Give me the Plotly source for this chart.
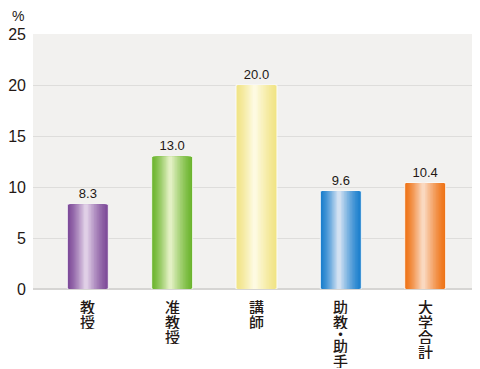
import plotly.graph_objects as go

categories = ["教授", "准教授", "講師", "助教・助手", "大学合計"]
values = [8.3, 13.0, 20.0, 9.6, 10.4]
value_labels = ["8.3", "13.0", "20.0", "9.6", "10.4"]
dark_colors = ["#7e4b99", "#6db52f", "#f1e487", "#1b7fcd", "#ef7418"]
light_colors = ["#eadcee", "#eef6d2", "#fffcea", "#e4ebf6", "#fbe2d0"]
y_ticks = [0, 5, 10, 15, 20, 25]


def hex2rgb(h):
    h = h.lstrip("#")
    return tuple(int(h[i:i + 2], 16) for i in (0, 2, 4))


def mix(c1, c2, t):
    a, b = hex2rgb(c1), hex2rgb(c2)
    return "rgb(%d,%d,%d)" % tuple(round(a[i] + (b[i] - a[i]) * t) for i in range(3))


x_idx = list(range(len(categories)))
W = 0.485
xl, xr = -W / 2, W / 2
c = xl + 0.45 * W

fig = go.Figure()

# base bar with thin white outline and value labels
fig.add_trace(go.Bar(
    x=x_idx, y=values, width=W, offset=xl,
    marker=dict(color=dark_colors, line=dict(color="rgba(255,255,255,0.8)", width=1)),
    text=value_labels, textposition="outside", cliponaxis=False,
    textfont=dict(family="Liberation Sans Narrow, Arial Narrow, Liberation Sans, Arial", size=13, color="#231815"),
    hoverinfo="skip",
))

N = 14
for k in range(1, N):
    t = k / N
    left = xl + t * (c - xl) * 0.98
    right = xr - t * (xr - c) * 0.98
    tc = t ** 1.3
    fig.add_trace(go.Bar(
        x=x_idx, y=values, width=right - left, offset=left,
        marker=dict(color=[mix(d, l, tc) for d, l in zip(dark_colors, light_colors)], line=dict(width=0)),
        hoverinfo="skip",
    ))

# vertical category labels (one character per line, "・" takes a half slot)
FULL, HALF, START = 15.0, 8.5, 10.0
for i, cat in enumerate(categories):
    pos = START
    for ch in cat:
        step = HALF if ch == "・" else FULL
        fig.add_annotation(
            x=i, y=0, xref="x", yref="y", text=ch, showarrow=False,
            yanchor="middle", xanchor="center", yshift=-(pos + step / 2),
            height=step, borderpad=0,
            font=dict(family="Noto Sans CJK JP", size=15, color="#231815", weight=500),
        )
        pos += step

fig.add_annotation(
    x=0, y=1, xref="paper", yref="paper", text="%", showarrow=False,
    xanchor="right", yanchor="bottom", xshift=-7, yshift=8,
    font=dict(family="Liberation Sans, Arial", size=14, color="#231815"),
)

fig.update_layout(
    width=472, height=361,
    margin=dict(l=22, r=0, t=26, b=80),
    paper_bgcolor="white", plot_bgcolor="#f2f1ef",
    barmode="overlay", showlegend=False,
    xaxis=dict(range=[-0.65, 4.65], showticklabels=False, showgrid=False, zeroline=False, fixedrange=True),
    yaxis=dict(range=[0, 25], tickvals=y_ticks, showgrid=True, gridcolor="#dedddb", gridwidth=1,
               zeroline=True, zerolinecolor="#d6d5d3", ticks="", ticklabelstandoff=6,
               tickfont=dict(family="Liberation Sans, Arial", size=16, color="#231815")),
)

fig.write_html("out.html")
